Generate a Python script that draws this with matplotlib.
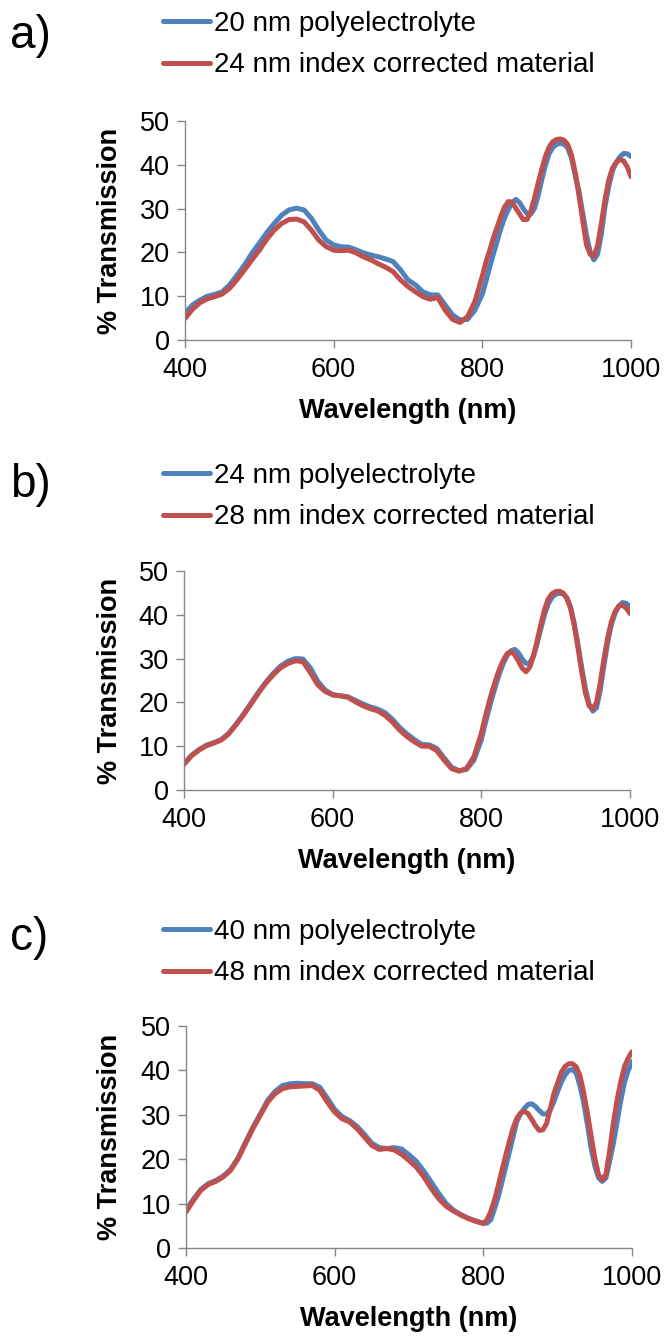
import numpy as np
import matplotlib
matplotlib.use("Agg")
from matplotlib import pyplot as plt

plt.rcParams['font.family'] = ['Liberation Sans', 'DejaVu Sans']

# wavelength grid (nm): 10 nm steps up to 790, 5 nm steps over the fringes 800-1000
wavelength = np.r_[np.arange(400, 800, 10), np.arange(800, 1001, 5)]

# a) 20 nm polyelectrolyte vs 24 nm index corrected material
a_poly = [6.1, 8.0, 9.1, 10.0, 10.4, 11.0, 12.6, 14.8, 17.1, 19.8, 22.1, 24.5, 26.6, 28.5, 29.7,
          30.1, 29.7, 27.8, 25.1, 22.8, 21.7, 21.3, 21.2, 20.6, 19.9, 19.4, 19.0, 18.5, 17.9, 16.0,
          13.7, 12.6, 11.0, 10.3, 10.3, 8.0, 5.7, 4.6, 4.7, 6.8,
          10.5, 13.5, 16.7, 19.7, 22.6, 25.5, 27.9, 29.8, 31.3, 32.1, 31.4, 30.0, 28.9, 28.7, 30.0,
          32.9, 36.6, 40.0, 42.6, 44.0, 44.7, 44.9, 44.7, 43.8, 41.5, 37.5, 34.0, 29.0, 24.0, 20.2,
          18.3, 19.6, 24.0, 30.5, 35.0, 38.6, 40.5, 41.8, 42.6, 42.5, 41.9]
a_corr = [4.9, 7.0, 8.5, 9.4, 9.9, 10.5, 11.8, 13.8, 16.0, 18.3, 20.5, 23.0, 25.1, 26.6, 27.5,
          27.6, 27.0, 25.1, 22.8, 21.3, 20.5, 20.4, 20.5, 19.9, 19.0, 18.3, 17.4, 16.6, 15.6, 13.7,
          12.2, 11.0, 9.9, 9.3, 9.7, 6.8, 4.7, 4.0, 5.3, 8.8,
          14.6, 17.9, 20.5, 23.4, 25.8, 28.3, 30.4, 31.6, 31.5, 30.1, 28.8, 27.5, 27.5, 29.3, 32.3,
          35.8, 39.0, 42.0, 44.1, 45.3, 45.8, 45.9, 45.6, 44.6, 42.2, 38.2, 33.0, 27.4, 21.8, 19.6,
          19.1, 21.5, 26.5, 32.0, 36.5, 39.2, 40.5, 41.2, 40.9, 39.5, 37.3]

# b) 24 nm polyelectrolyte vs 28 nm index corrected material
b_poly = [6.0, 7.9, 9.2, 10.2, 10.8, 11.5, 12.9, 15.0, 17.3, 19.8, 22.3, 24.6, 26.6, 28.3, 29.4,
          30.0, 29.9, 27.9, 24.8, 22.8, 21.8, 21.5, 21.3, 20.5, 19.7, 19.0, 18.5, 17.7, 16.2, 14.3,
          12.8, 11.5, 10.4, 10.3, 9.5, 7.3, 5.2, 4.4, 4.7, 6.8,
          11.5, 15.0, 18.3, 21.4, 24.3, 26.9, 29.1, 30.8, 31.8, 32.1, 31.3, 29.9, 28.9, 29.0, 30.5,
          33.4, 36.8, 40.0, 42.5, 44.0, 44.7, 44.9, 44.8, 43.9, 41.8, 38.0, 33.2, 28.0, 23.2, 19.6,
          18.0, 18.8, 22.8, 28.5, 33.8, 37.8, 40.4, 42.0, 42.8, 42.6, 41.9]
b_corr = [5.9, 7.8, 9.1, 10.1, 10.7, 11.4, 12.8, 14.9, 17.1, 19.6, 22.1, 24.4, 26.3, 27.9, 28.9,
          29.5, 29.3, 26.8, 24.0, 22.5, 21.7, 21.5, 21.2, 20.2, 19.3, 18.6, 18.1, 17.1, 15.6, 13.7,
          12.2, 11.0, 10.0, 10.0, 9.0, 6.8, 4.9, 4.3, 4.9, 7.6,
          12.9, 16.5, 19.8, 22.8, 25.5, 27.9, 29.8, 31.2, 31.6, 30.8, 29.4, 27.8, 27.0, 28.0, 30.5,
          34.0, 37.8, 41.2, 43.6, 44.8, 45.3, 45.4, 45.0, 43.8, 41.5, 37.6, 32.5, 27.0, 22.2, 19.2,
          18.6, 20.0, 24.5, 30.0, 34.8, 38.5, 40.8, 42.0, 42.2, 41.5, 40.3]

# c) 40 nm polyelectrolyte vs 48 nm index corrected material
c_poly = [8.6, 11.0, 13.2, 14.5, 15.2, 16.2, 17.7, 20.3, 23.8, 27.2, 30.2, 33.3, 35.3, 36.6, 37.0,
          37.1, 37.0, 37.0, 36.2, 33.8, 31.2, 29.6, 28.7, 27.4, 25.6, 23.6, 22.6, 22.4, 22.6, 22.3,
          21.0, 19.5, 17.3, 14.8, 12.3, 10.0, 8.5, 7.5, 6.7, 6.1,
          5.6, 5.6, 6.4, 8.8, 11.5, 14.8, 18.2, 21.6, 25.0, 28.5, 30.2, 31.4, 32.3, 32.5, 31.9,
          31.0, 30.2, 30.2, 31.1, 33.0, 35.3, 37.4, 39.0, 40.0, 40.2, 39.4, 36.5, 32.8, 27.8, 22.5,
          18.5, 15.8, 15.0, 15.8, 19.6, 23.6, 28.5, 33.3, 37.4, 40.0, 42.0]
c_corr = [8.1, 10.7, 13.0, 14.3, 15.0, 16.0, 17.5, 20.1, 23.5, 26.9, 29.9, 32.9, 34.8, 35.9, 36.3,
          36.4, 36.5, 36.6, 35.5, 32.9, 30.6, 29.1, 28.4, 26.9, 25.0, 23.1, 22.2, 22.4, 22.1, 21.1,
          19.7, 18.2, 16.0, 13.4, 11.1, 9.4, 8.3, 7.4, 6.6, 6.0,
          5.5, 6.4, 8.2, 10.8, 14.0, 17.5, 20.8, 24.0, 27.0, 29.2, 30.4, 30.8, 30.3, 29.0, 27.6,
          26.5, 26.6, 28.0, 31.3, 34.8, 37.2, 39.6, 40.9, 41.5, 41.5, 40.8, 38.8, 35.0, 30.4, 25.2,
          20.2, 16.5, 15.4, 16.6, 22.0, 28.2, 33.4, 37.5, 40.9, 42.8, 44.2]

panel_letters = ['a)', 'b)', 'c)']
poly_labels = ['20 nm polyelectrolyte', '24 nm polyelectrolyte', '40 nm polyelectrolyte']
corr_labels = ['24 nm index corrected material', '28 nm index corrected material',
               '48 nm index corrected material']
poly_series = [a_poly, b_poly, c_poly]
corr_series = [a_corr, b_corr, c_corr]

W, H = 668, 1338
BLUE = '#4F81BD'
RED = '#C0504D'
GRAY = '#868686'
FS = 19.5

# axes boxes in pixels: left, top, right, bottom
boxes = [(185, 121, 631, 340), (184, 571, 630, 790), (186, 1026, 632, 1248)]
legend_tops = [11, 463, 919]
letter_baselines = [48, 497, 950]

fig = plt.figure(figsize=(W / 100, H / 100), dpi=100)

for i in range(3):
    l, t, r, b = boxes[i]
    ax = fig.add_axes([l / W, 1 - b / H, (r - l) / W, (b - t) / H])
    ax.plot(wavelength, poly_series[i], color=BLUE, lw=3.6, solid_capstyle='round',
            solid_joinstyle='round', label=poly_labels[i])
    ax.plot(wavelength, corr_series[i], color=RED, lw=3.6, solid_capstyle='round',
            solid_joinstyle='round', label=corr_labels[i])

    ax.set_xlim(400, 1000)
    ax.set_ylim(0, 50)
    ax.set_xticks([400, 600, 800, 1000])
    ax.set_yticks([0, 10, 20, 30, 40, 50])
    for side in ['top', 'right']:
        ax.spines[side].set_visible(False)
    for side in ['left', 'bottom']:
        ax.spines[side].set_color(GRAY)
        ax.spines[side].set_linewidth(1.0)
    ax.tick_params(direction='out', length=6, width=1.0, color=GRAY, labelsize=FS)
    ax.tick_params(axis='x', pad=6)
    ax.tick_params(axis='y', pad=5)

    ax.set_xlabel('Wavelength (nm)', fontsize=FS, fontweight='bold')
    ax.set_ylabel('% Transmission', fontsize=FS, fontweight='bold')
    ax.xaxis.set_label_coords(0.5, -58 / (b - t))
    ax.yaxis.set_label_coords((123 - l) / (r - l), 0.5)

    ax.legend(loc='upper left', bbox_to_anchor=(163 / W, 1 - legend_tops[i] / H),
              bbox_transform=fig.transFigure, frameon=False, fontsize=20,
              borderpad=0, borderaxespad=0, handlelength=1.7, handletextpad=0.15,
              labelspacing=0.55)

    fig.text(10 / W, 1 - letter_baselines[i] / H, panel_letters[i], fontsize=33,
             ha='left', va='baseline')

fig.savefig('out.png', dpi=100)
